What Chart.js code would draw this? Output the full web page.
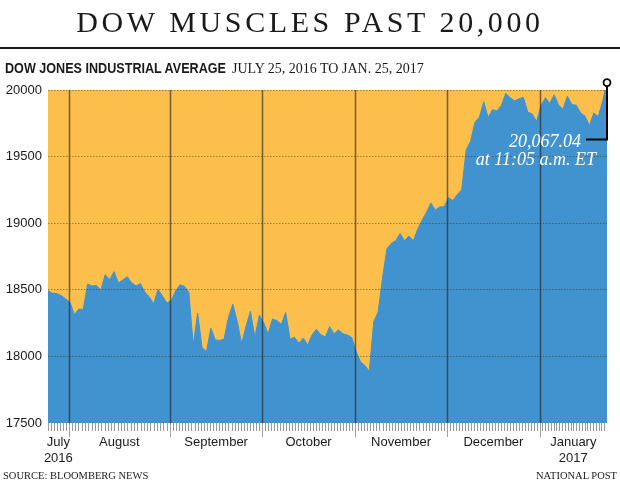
<!DOCTYPE html>
<html><head><meta charset="utf-8">
<script src="https://cdn.jsdelivr.net/npm/chart.js@4.4.1/dist/chart.umd.min.js"></script>
<style>
html,body{margin:0;padding:0;background:#fff;}
#wrap{position:relative;width:620px;height:501px;overflow:hidden;background:#fff;}
#c{position:absolute;left:0;top:0;}
.t{position:absolute;white-space:nowrap;color:#1a1a1a;}
#title{left:0;width:620px;top:7px;text-align:center;font:30px/30px "Liberation Serif",serif;letter-spacing:3.6px;}
#rule{position:absolute;left:0;top:47px;width:620px;height:2px;background:#1a1a1a;}
#sub1{left:5px;top:60px;font:bold 15px/15px "Liberation Sans",sans-serif;transform:scaleX(0.84);transform-origin:0 0;}
#sub2{left:232px;top:61px;font:14px/15px "Liberation Serif",serif;}
#src{left:3px;top:470px;font:10.5px/12px "Liberation Serif",serif;}
#np{right:3px;top:470px;font:10.5px/12px "Liberation Serif",serif;}
</style></head>
<body><div id="wrap">
<canvas id="c" width="620" height="501"></canvas>
<div class="t" id="title">DOW MUSCLES PAST 20,000</div>
<div id="rule"></div>
<div class="t" id="sub1">DOW JONES INDUSTRIAL AVERAGE</div>
<div class="t" id="sub2">JULY 25, 2016 TO JAN. 25, 2017</div>
<div class="t" id="src">SOURCE: BLOOMBERG NEWS</div>
<div class="t" id="np">NATIONAL POST</div>
</div>
<script>
// Trading days shown (July 25, 2016 to Jan. 25, 2017)
const dates = [
 'Jul 25','Jul 26','Jul 27','Jul 28','Jul 29',
 'Aug 1','Aug 2','Aug 3','Aug 4','Aug 5','Aug 8','Aug 9','Aug 10','Aug 11','Aug 12','Aug 15','Aug 16','Aug 17','Aug 18','Aug 19','Aug 22','Aug 23','Aug 24','Aug 25','Aug 26','Aug 29','Aug 30','Aug 31',
 'Sep 1','Sep 2','Sep 6','Sep 7','Sep 8','Sep 9','Sep 12','Sep 13','Sep 14','Sep 15','Sep 16','Sep 19','Sep 20','Sep 21','Sep 22','Sep 23','Sep 26','Sep 27','Sep 28','Sep 29','Sep 30',
 'Oct 3','Oct 4','Oct 5','Oct 6','Oct 7','Oct 10','Oct 11','Oct 12','Oct 13','Oct 14','Oct 17','Oct 18','Oct 19','Oct 20','Oct 21','Oct 24','Oct 25','Oct 26','Oct 27','Oct 28','Oct 31',
 'Nov 1','Nov 2','Nov 3','Nov 4','Nov 7','Nov 8','Nov 9','Nov 10','Nov 11','Nov 14','Nov 15','Nov 16','Nov 17','Nov 18','Nov 21','Nov 22','Nov 23','Nov 25','Nov 28','Nov 29','Nov 30',
 'Dec 1','Dec 2','Dec 5','Dec 6','Dec 7','Dec 8','Dec 9','Dec 12','Dec 13','Dec 14','Dec 15','Dec 16','Dec 19','Dec 20','Dec 21','Dec 22','Dec 23','Dec 27','Dec 28','Dec 29','Dec 30',
 'Jan 3','Jan 4','Jan 5','Jan 6','Jan 9','Jan 10','Jan 11','Jan 12','Jan 13','Jan 17','Jan 18','Jan 19','Jan 20','Jan 23','Jan 24','Jan 25'
];
const closes = [
 18493,18474,18472,18456,18432,
 18405,18314,18355,18352,18544,18529,18533,18496,18614,18576,18636,18552,18574,18598,18553,18529,18547,18481,18448,18395,18503,18454,18401,
 18419,18492,18538,18526,18480,18085,18325,18067,18035,18212,18124,18120,18130,18294,18392,18261,18095,18228,18339,18143,18308,
 18254,18168,18281,18269,18240,18329,18129,18144,18099,18138,18086,18162,18203,18162,18146,18223,18169,18199,18170,18161,18142,
 18037,17960,17931,17888,18260,18333,18590,18808,18848,18869,18923,18868,18904,18868,18957,19024,19083,19152,19098,19122,19124,
 19192,19170,19216,19252,19550,19615,19757,19796,19911,19793,19852,19843,19883,19975,19942,19919,19934,19945,19834,19820,19763,
 19882,19942,19899,19964,19887,19856,19954,19891,19886,19827,19805,19732,19827,19800,19913,20067.04
];
const monthLabels = [['July','2016'],'August','September','October','November','December',['January','2017']];
const monthCalendarDays = [7,31,30,31,30,31,24];
const yTicks = [17500,18000,18500,19000,19500,20000];
const calloutTime = 'at 11:05 a.m. ET';

const ORANGE = '#FDBF4B', BLUE = '#4193D0';

// month segment edges in trading-day index space
const edges = [0];
for (let i = 1; i < dates.length; i++) {
  if (dates[i].slice(0,3) !== dates[i-1].slice(0,3)) edges.push(i - 0.3);
}
edges.push(dates.length - 1);
const monthMid = monthLabels.map((_, k) => (edges[k] + edges[k+1]) / 2);
const dayTicks = [];
monthCalendarDays.forEach((n, k) => {
  for (let d = (k === 0 ? 0 : 1); d < n; d++) dayTicks.push(edges[k] + d * (edges[k+1] - edges[k]) / n);
});
const boundaries = edges.slice(1, -1);

const decor = {
  id: 'decor',
  beforeDraw(chart) {
    const {ctx, chartArea: a} = chart;
    ctx.save(); ctx.fillStyle = ORANGE; ctx.fillRect(a.left, a.top, a.right - a.left, a.bottom - a.top); ctx.restore();
  },
  afterDatasetsDraw(chart) {
    const {ctx, chartArea: a, scales: {x}} = chart;
    ctx.save();
    ctx.lineWidth = 1;
    ctx.strokeStyle = '#9a9a9a';
    dayTicks.forEach(v => {
      const px = Math.round(x.getPixelForValue(v)) + 0.5;
      ctx.beginPath(); ctx.moveTo(px, a.bottom); ctx.lineTo(px, a.bottom + 8); ctx.stroke();
    });
    boundaries.forEach(v => {
      const px = Math.round(x.getPixelForValue(v)) + 0.5;
      ctx.strokeStyle = '#a0a0a0'; ctx.lineWidth = 1;
      ctx.beginPath(); ctx.moveTo(px, a.bottom); ctx.lineTo(px, a.bottom + 14); ctx.stroke();
      ctx.strokeStyle = 'rgba(40,40,40,0.65)'; ctx.lineWidth = 1.5;
      ctx.beginPath(); ctx.moveTo(px, a.top); ctx.lineTo(px, a.bottom); ctx.stroke();
    });
    ctx.restore();
  },
  afterDraw(chart) {
    const {ctx, scales: {x, y}} = chart;
    const i = closes.length - 1;
    const px = x.getPixelForValue(i), py = y.getPixelForValue(closes[i]) + 1.5;
    const ly = py + 57;
    ctx.save();
    ctx.strokeStyle = '#000'; ctx.lineWidth = 2;
    ctx.beginPath(); ctx.moveTo(px, py + 3); ctx.lineTo(px, ly); ctx.lineTo(px - 21, ly); ctx.stroke();
    ctx.beginPath(); ctx.arc(px, py, 3.5, 0, Math.PI * 2); ctx.fillStyle = '#fff'; ctx.fill();
    ctx.lineWidth = 1.8; ctx.stroke();
    ctx.fillStyle = '#fff'; ctx.font = 'italic 18px "Liberation Serif", serif';
    ctx.textAlign = 'right'; ctx.textBaseline = 'middle';
    const lbl = closes[i].toLocaleString('en-US', {minimumFractionDigits: 2, maximumFractionDigits: 2});
    ctx.fillText(lbl, px - 26, ly + 3);
    ctx.fillText(calloutTime, px - 11, ly + 21);
    ctx.restore();
  }
};

new Chart(document.getElementById('c'), {
  type: 'line',
  data: {
    datasets: [{
      data: closes.map((v, i) => ({x: i, y: v})),
      fill: 'start',
      backgroundColor: BLUE,
      borderColor: BLUE,
      borderWidth: 1,
      pointRadius: 0,
      tension: 0
    }]
  },
  options: {
    responsive: false,
    animation: false,
    devicePixelRatio: 1,
    layout: {padding: {top: 90, right: 13, bottom: 33, left: 0}},
    plugins: {legend: {display: false}, tooltip: {enabled: false}},
    scales: {
      x: {
        type: 'linear', min: 0, max: closes.length - 1,
        afterBuildTicks: s => { s.ticks = monthMid.map(v => ({value: v})); },
        afterFit: s => { s.height = 45; },
        ticks: {autoSkip: false, maxRotation: 0, padding: 11, color: '#1a1a1a',
          font: {family: '"Liberation Sans", sans-serif', size: 13, lineHeight: 1.25},
          callback: (v, idx) => monthLabels[idx]},
        grid: {display: false, drawTicks: false},
        border: {display: false}
      },
      y: {
        type: 'linear', min: 17500, max: 20000,
        afterBuildTicks: s => { s.ticks = yTicks.map(v => ({value: v})); },
        afterFit: s => { s.width = 48; },
        ticks: {padding: 6, color: '#1a1a1a', font: {family: '"Liberation Sans", sans-serif', size: 13},
          callback: v => String(v)},
        grid: {z: 1, drawTicks: false, lineWidth: 1, borderDash: [1.5, 1.5],
          color: c => (c.tick && c.tick.value === 17500) ? 'rgba(0,0,0,0)' : 'rgba(60,40,0,0.45)'},
        border: {display: false, dash: [1.5, 1.5]}
      }
    }
  },
  plugins: [decor]
});
</script>
</body></html>
